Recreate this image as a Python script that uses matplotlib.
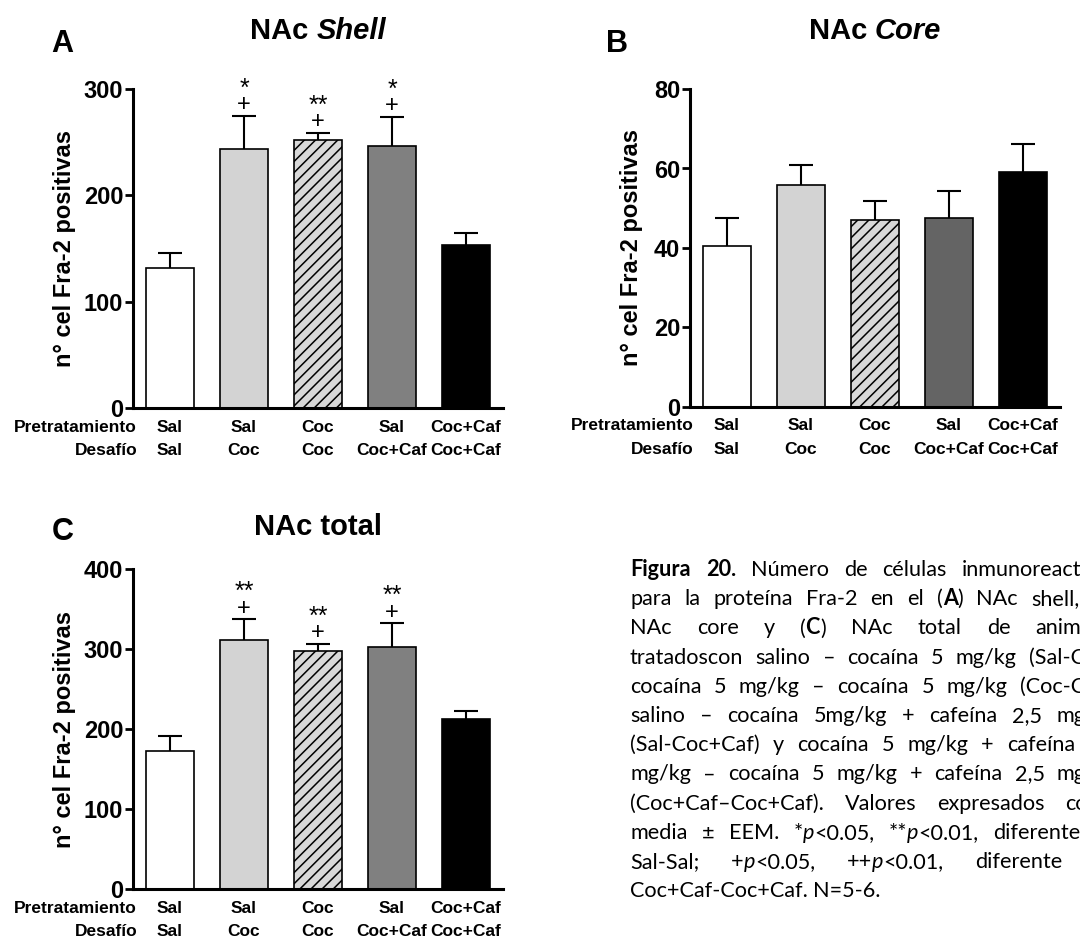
import re
import numpy as np
import matplotlib
matplotlib.use('Agg')
import matplotlib.pyplot as plt
import matplotlib.transforms as mtransforms
from matplotlib.font_manager import FontProperties

plt.rcParams['font.family'] = ['Liberation Sans', 'DejaVu Sans']
plt.rcParams['hatch.color'] = 'black'
plt.rcParams['hatch.linewidth'] = 1.1

# ---------------- data ----------------
pretratamiento = ['Sal', 'Sal', 'Coc', 'Sal', 'Coc+Caf']
desafio = ['Sal', 'Coc', 'Coc', 'Coc+Caf', 'Coc+Caf']

shell_mean = [132, 244, 252, 246, 153]
shell_sem = [14, 31, 7, 28, 12]
shell_stars = ['', '*', '**', '*', '']
shell_plus = ['', '+', '+', '+', '']

core_mean = [40.5, 55.8, 47.0, 47.5, 59.2]
core_sem = [7.1, 5.2, 4.7, 6.8, 6.9]

total_mean = [172, 311, 298, 302, 212]
total_sem = [19, 26, 8.5, 30, 10]
total_stars = ['', '**', '**', '**', '']
total_plus = ['', '+', '+', '+', '']

colors_ac = ['white', '#d3d3d3', '#d8d8d8', '#808080', 'black']
colors_b = ['white', '#d3d3d3', '#d8d8d8', '#646464', 'black']
hatches = [None, None, '///', None, None]

caption_lines = [
    "<b>Figura 20.</b> Número de células inmunoreactivas",
    "para la proteína Fra-2 en el (<b>A</b>) NAc shell, (<b>B</b>)",
    "NAc core y (<b>C</b>) NAc total de animales",
    "tratadoscon salino – cocaína 5 mg/kg (Sal-Coc),",
    "cocaína 5 mg/kg – cocaína 5 mg/kg (Coc-Coc),",
    "salino – cocaína 5mg/kg + cafeína 2,5 mg/kg",
    "(Sal-Coc+Caf) y cocaína 5 mg/kg + cafeína 2,5",
    "mg/kg – cocaína 5 mg/kg + cafeína 2,5 mg/kg",
    "(Coc+Caf–Coc+Caf). Valores expresados como",
    "media ± EEM. *<i>p</i><0.05, **<i>p</i><0.01, diferente de",
    "Sal-Sal; +<i>p</i><0.05, ++<i>p</i><0.01, diferente de",
    "Coc+Caf-Coc+Caf. N=5-6.",
]

# ---------------- figure ----------------
W, H, DPI = 1080, 938, 100
fig = plt.figure(figsize=(W / DPI, H / DPI), dpi=DPI)
renderer = fig.canvas.get_renderer()

CHART_FAM = ['Liberation Sans', 'DejaVu Sans']
CAP_FAM = ['Lato', 'DejaVu Sans']


def fp(size, weight='normal', style='normal', family=CHART_FAM):
    return FontProperties(family=family, size=size, weight=weight, style=style)


def text_w(s, prop):
    w, h, d = renderer.get_text_width_height_descent(s, prop, ismath=False)
    return w


def put(xpx, ybase_px, s, prop):
    fig.text(xpx / W, 1 - ybase_px / H, s, fontproperties=prop,
             ha='left', va='baseline')


def runs_centered(xc, ybase, runs):
    widths = [text_w(s, p) for s, p in runs]
    x = xc - sum(widths) / 2
    for (s, p), w in zip(runs, widths):
        put(x, ybase, s, p)
        x += w


def rect_px(left, top, right, bottom):
    return [left / W, 1 - bottom / H, (right - left) / W, (bottom - top) / H]


def panel(rect, means, sems, colors, ymax, ystep, ylab_xc,
          stars=None, plus=None):
    ax = fig.add_axes(rect)
    x = np.arange(len(means))
    bars = ax.bar(x, means, width=0.66, color=colors, edgecolor='black',
                  linewidth=1.2, zorder=3)
    for b, h in zip(bars, hatches):
        if h:
            b.set_hatch(h)
    n = len(means)
    _, caps, _ = ax.errorbar(x, means, yerr=[np.zeros(n), sems], fmt='none',
                             ecolor='black', elinewidth=1.5, capsize=8.6,
                             capthick=1.5, zorder=2)
    for c in caps:
        if np.allclose(c.get_ydata(), means):
            c.set_visible(False)
    ax.set_xlim(-0.5, 4.5)
    ax.set_ylim(0, ymax)
    for s in ['top', 'right']:
        ax.spines[s].set_visible(False)
    for s in ['left', 'bottom']:
        ax.spines[s].set_linewidth(2.2)
    ax.set_xticks([])
    ax.set_yticks(np.arange(0, ymax + 1, ystep))
    ax.tick_params(axis='y', direction='out', length=6, width=2,
                   labelsize=17, pad=1)
    for lbl in ax.get_yticklabels():
        lbl.set_fontweight('bold')
    ax.patch.set_visible(False)

    # y label
    ax.text(ylab_xc, 0.5, 'n° cel Fra-2 positivas', transform=ax.transAxes,
            rotation=90, ha='center', va='center', fontsize=17,
            fontweight='bold')

    # category labels
    bt = mtransforms.blended_transform_factory(ax.transData, ax.transAxes)
    t1 = mtransforms.offset_copy(bt, fig=fig, y=-19, units='dots')
    t2 = mtransforms.offset_copy(bt, fig=fig, y=-42, units='dots')
    for i in range(n):
        ax.text(i, 0, pretratamiento[i], transform=t1, ha='center',
                va='center', fontsize=12.5, fontweight='bold')
        ax.text(i, 0, desafio[i], transform=t2, ha='center',
                va='center', fontsize=12.5, fontweight='bold')
    a1 = mtransforms.offset_copy(ax.transAxes, fig=fig, x=4, y=-19, units='dots')
    a2 = mtransforms.offset_copy(ax.transAxes, fig=fig, x=4, y=-42, units='dots')
    ax.text(0, 0, 'Pretratamiento', transform=a1, ha='right', va='center',
            fontsize=12.5, fontweight='bold')
    ax.text(0, 0, 'Desafío', transform=a2, ha='right', va='center',
            fontsize=12.5, fontweight='bold')

    # significance marks
    if plus is not None:
        for i in range(n):
            top = means[i] + sems[i]
            if plus[i]:
                ax.annotate(plus[i], xy=(i, top), xytext=(0, 7.5),
                            textcoords='offset points', ha='center',
                            va='center', fontsize=17, zorder=5)
            if stars[i]:
                ax.annotate(stars[i], xy=(i, top), xytext=(0, 19.5),
                            textcoords='offset points', ha='center',
                            va='center', fontsize=18, zorder=5)
    for sp in ax.spines.values():
        sp.set_zorder(4)
    return ax


axA = panel(rect_px(133, 89, 503, 408), shell_mean, shell_sem, colors_ac,
            300, 100, -0.184, shell_stars, shell_plus)
axB = panel(rect_px(690, 89, 1060, 407), core_mean, core_sem, colors_b,
            80, 20, -0.157)
axC = panel(rect_px(133, 569, 503, 889), total_mean, total_sem, colors_ac,
            400, 100, -0.184, total_stars, total_plus)

# titles and panel letters
TS = 21
runs_centered(318, 39, [('NAc ', fp(TS, 'bold')), ('Shell', fp(TS, 'bold', 'italic'))])
runs_centered(875, 39, [('NAc ', fp(TS, 'bold')), ('Core', fp(TS, 'bold', 'italic'))])
runs_centered(318, 535, [('NAc total', fp(TS, 'bold'))])
put(51, 52, 'A', fp(22, 'bold'))
put(606, 52, 'B', fp(22, 'bold'))
put(52, 540, 'C', fp(22, 'bold'))

# ---------------- caption (justified) ----------------
CAP_LEFT, CAP_RIGHT = 630, 1118
CAP_BASE0, CAP_STEP = 576, 29.2


def parse(line):
    runs, style = [], 'n'
    for part in re.split(r'(<b>|</b>|<i>|</i>)', line):
        if part == '<b>':
            style = 'b'
        elif part == '<i>':
            style = 'i'
        elif part in ('</b>', '</i>'):
            style = 'n'
        elif part:
            runs.append((part, style))
    words = [[]]
    for txt, st in runs:
        pieces = txt.split(' ')
        for k, p in enumerate(pieces):
            if k > 0:
                words.append([])
            if p:
                words[-1].append((p, st))
    return [w for w in words if w]


def cap_prop(st, size):
    if st == 'b':
        return fp(size, 'bold', family=CAP_FAM)
    if st == 'i':
        return fp(size, 'normal', 'italic', family=CAP_FAM)
    return fp(size, family=CAP_FAM)


parsed = [parse(l) for l in caption_lines]


def natural_width(words, size):
    sp = text_w('a a', cap_prop('n', size)) - text_w('aa', cap_prop('n', size))
    return sum(text_w(s, cap_prop(st, size)) for w in words for s, st in w) + sp * (len(words) - 1)


# font size: widest justified line fills most of the column
max_nat = max(natural_width(w, 10) for w in parsed[:-1])
CS = 10 * 0.92 * (CAP_RIGHT - CAP_LEFT) / max_nat
space_w = text_w('a a', cap_prop('n', CS)) - text_w('aa', cap_prop('n', CS))

for li, words in enumerate(parsed):
    wwidths = [[text_w(s, cap_prop(st, CS)) for s, st in w] for w in words]
    tot = sum(sum(w) for w in wwidths)
    last = li == len(parsed) - 1
    gap = space_w if (last or len(words) < 2) else (CAP_RIGHT - CAP_LEFT - tot) / (len(words) - 1)
    x = CAP_LEFT
    y = CAP_BASE0 + li * CAP_STEP
    for w, ws in zip(words, wwidths):
        xx = x
        for (s, st), sw in zip(w, ws):
            put(xx, y, s, cap_prop(st, CS))
            xx += sw
        x += sum(ws) + gap

fig.savefig('out.png', dpi=DPI)
